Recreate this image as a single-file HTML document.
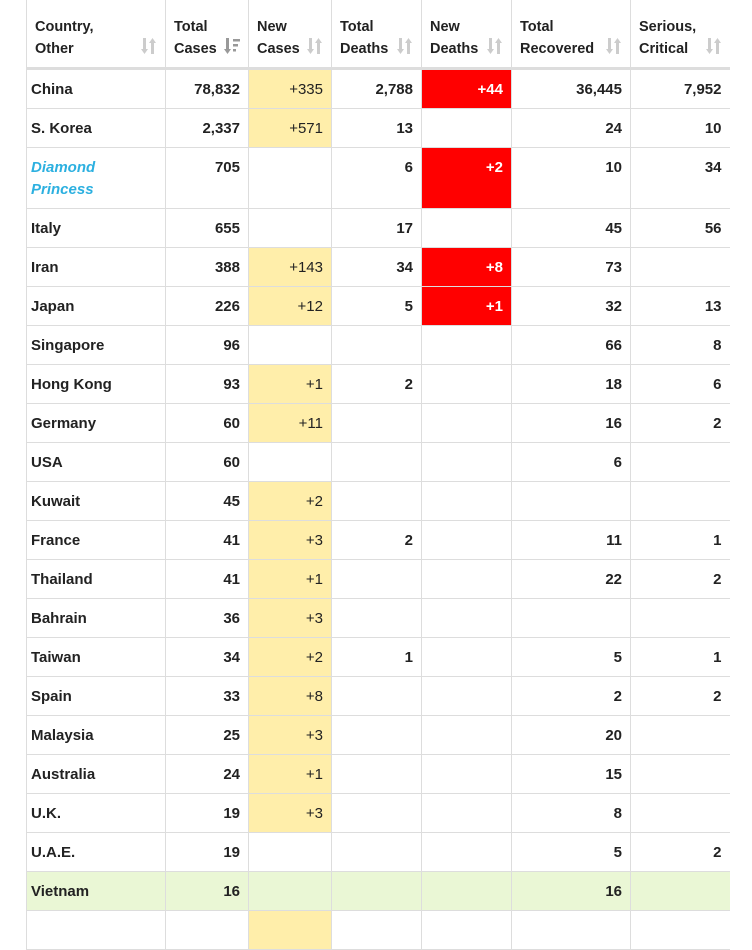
<!DOCTYPE html>
<html><head><meta charset="utf-8"><style>
body{margin:0;background:#fff;font-family:"Liberation Sans",Arial,sans-serif;overflow:hidden}
table{position:absolute;left:26px;top:0;border-collapse:collapse;table-layout:fixed;width:703px;}
td,th{border:1px solid #ddd;font-size:15px;line-height:22px;color:#222;font-weight:bold;vertical-align:top;padding:9px 8px 7px 4px;text-align:right;height:22px;}
th{text-align:left;padding:16px 6px 7px 8px;height:44px;border-top:none;border-bottom:3px solid #ddd;position:relative;font-size:14.5px}
th svg{position:absolute;right:8px;top:38px}
tr td:first-child{text-align:left;}
tr td:last-child,tr th:last-child{border-right:none}
.y{background:#ffeeaa;font-weight:normal}
.r{background:#f00;color:#fff}
.d{color:#2cb0e0;font-style:italic}
.g td{background:#eaf7d5}
</style></head><body>
<svg width="0" height="0" style="position:absolute"><defs>
<g id="s" fill="#ccc"><rect x="2" y="0" width="3" height="12"/><polygon points="0,11 7,11 3.5,16"/><rect x="10" y="4" width="3" height="12"/><polygon points="8,5 15,5 11.5,0"/></g>
<g id="t" fill="#999"><rect x="2" y="0" width="3" height="12"/><polygon points="0,11 7,11 3.5,16"/><rect x="9" y="1" width="7" height="2.5"/><rect x="9" y="6" width="5" height="2.5"/><rect x="9" y="11" width="3" height="2.5"/></g>
</defs></svg>
<table>
<colgroup><col style="width:139px"><col style="width:83px"><col style="width:83px"><col style="width:90px"><col style="width:90px"><col style="width:119px"><col style="width:99px"></colgroup>
<tr><th>Country,<br>Other<svg width="16" height="16"><use href="#s"/></svg></th><th>Total<br>Cases<svg width="16" height="16"><use href="#t"/></svg></th><th>New<br>Cases<svg width="16" height="16"><use href="#s"/></svg></th><th>Total<br>Deaths<svg width="16" height="16"><use href="#s"/></svg></th><th>New<br>Deaths<svg width="16" height="16"><use href="#s"/></svg></th><th>Total<br>Recovered<svg width="16" height="16"><use href="#s"/></svg></th><th>Serious,<br>Critical<svg width="16" height="16"><use href="#s"/></svg></th></tr>
<tr><td>China</td><td>78,832</td><td class="y">+335</td><td>2,788</td><td class="r">+44</td><td>36,445</td><td>7,952</td></tr>
<tr><td>S. Korea</td><td>2,337</td><td class="y">+571</td><td>13</td><td></td><td>24</td><td>10</td></tr>
<tr><td class="d">Diamond<br>Princess</td><td>705</td><td></td><td>6</td><td class="r">+2</td><td>10</td><td>34</td></tr>
<tr><td>Italy</td><td>655</td><td></td><td>17</td><td></td><td>45</td><td>56</td></tr>
<tr><td>Iran</td><td>388</td><td class="y">+143</td><td>34</td><td class="r">+8</td><td>73</td><td></td></tr>
<tr><td>Japan</td><td>226</td><td class="y">+12</td><td>5</td><td class="r">+1</td><td>32</td><td>13</td></tr>
<tr><td>Singapore</td><td>96</td><td></td><td></td><td></td><td>66</td><td>8</td></tr>
<tr><td>Hong Kong</td><td>93</td><td class="y">+1</td><td>2</td><td></td><td>18</td><td>6</td></tr>
<tr><td>Germany</td><td>60</td><td class="y">+11</td><td></td><td></td><td>16</td><td>2</td></tr>
<tr><td>USA</td><td>60</td><td></td><td></td><td></td><td>6</td><td></td></tr>
<tr><td>Kuwait</td><td>45</td><td class="y">+2</td><td></td><td></td><td></td><td></td></tr>
<tr><td>France</td><td>41</td><td class="y">+3</td><td>2</td><td></td><td>11</td><td>1</td></tr>
<tr><td>Thailand</td><td>41</td><td class="y">+1</td><td></td><td></td><td>22</td><td>2</td></tr>
<tr><td>Bahrain</td><td>36</td><td class="y">+3</td><td></td><td></td><td></td><td></td></tr>
<tr><td>Taiwan</td><td>34</td><td class="y">+2</td><td>1</td><td></td><td>5</td><td>1</td></tr>
<tr><td>Spain</td><td>33</td><td class="y">+8</td><td></td><td></td><td>2</td><td>2</td></tr>
<tr><td>Malaysia</td><td>25</td><td class="y">+3</td><td></td><td></td><td>20</td><td></td></tr>
<tr><td>Australia</td><td>24</td><td class="y">+1</td><td></td><td></td><td>15</td><td></td></tr>
<tr><td>U.K.</td><td>19</td><td class="y">+3</td><td></td><td></td><td>8</td><td></td></tr>
<tr><td>U.A.E.</td><td>19</td><td></td><td></td><td></td><td>5</td><td>2</td></tr>
<tr class="g"><td>Vietnam</td><td>16</td><td></td><td></td><td></td><td>16</td><td></td></tr>
<tr><td>&nbsp;</td><td></td><td class="y"></td><td></td><td></td><td></td><td></td></tr>
</table>
</body></html>
